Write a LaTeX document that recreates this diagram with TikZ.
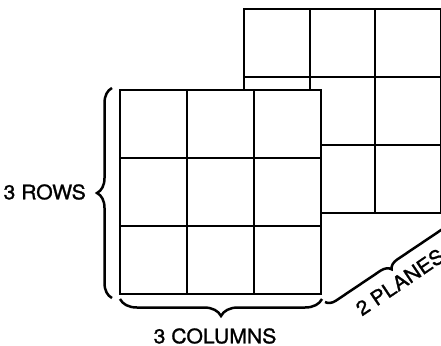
\documentclass[tikz,border=0pt]{standalone}
\usepackage{fontspec}
\newfontfamily\lblfont{TeX Gyre Heros}[FakeBold=1.2, FakeStretch=1.06]
\usetikzlibrary{decorations.pathreplacing}

\tikzset{
  cell/.style={draw=black, line width=2pt, fill=white},
  brc/.style={decorate, decoration={brace, amplitude=#1}, line width=2.5pt},
  lbl/.style={font=\lblfont\fontsize{20}{22}\selectfont, inner sep=0pt}
}

\begin{document}
\begin{tikzpicture}[x=1pt, y=-1pt]
  \clip (0,0) rectangle (441,345);
  \fill[white] (0,0) rectangle (441,345);
  % back plane
  \begin{scope}[shift={(244,9.5)}]
    \foreach \i in {0,1,2} {
      \foreach \j in {0,1,2} {
        \draw[cell] (\i*65.5,\j*67.8) rectangle ++(65.5,67.8);
      }
    }
  \end{scope}
  % front plane
  \begin{scope}[shift={(120,90)}]
    \foreach \i in {0,1,2} {
      \foreach \j in {0,1,2} {
        \draw[cell] (\i*67,\j*68) rectangle ++(67,68);
      }
    }
  \end{scope}
  \coordinate (rowtop) at (112,88);
  \coordinate (rowbot) at (112,298);
  \coordinate (colleft) at (120,299);
  \coordinate (colright) at (322,299);
  \coordinate (plnear) at (325,302);
  \coordinate (plfar) at (447,220);
  % braces
  \draw[brc=15] (rowbot) -- (rowtop);
  \draw[brc=17] (colright) -- (colleft);
  \draw[brc=10] (plfar) -- (plnear);
  % labels
  \node[lbl, anchor=east] (rows) at (86,192) {3 ROWS};
  \node[lbl] (cols) at (215,336) {3 COLUMNS};
  \node[lbl, rotate=34] (planes) at (400,282) {2 PLANES};
\end{tikzpicture}
\end{document}
